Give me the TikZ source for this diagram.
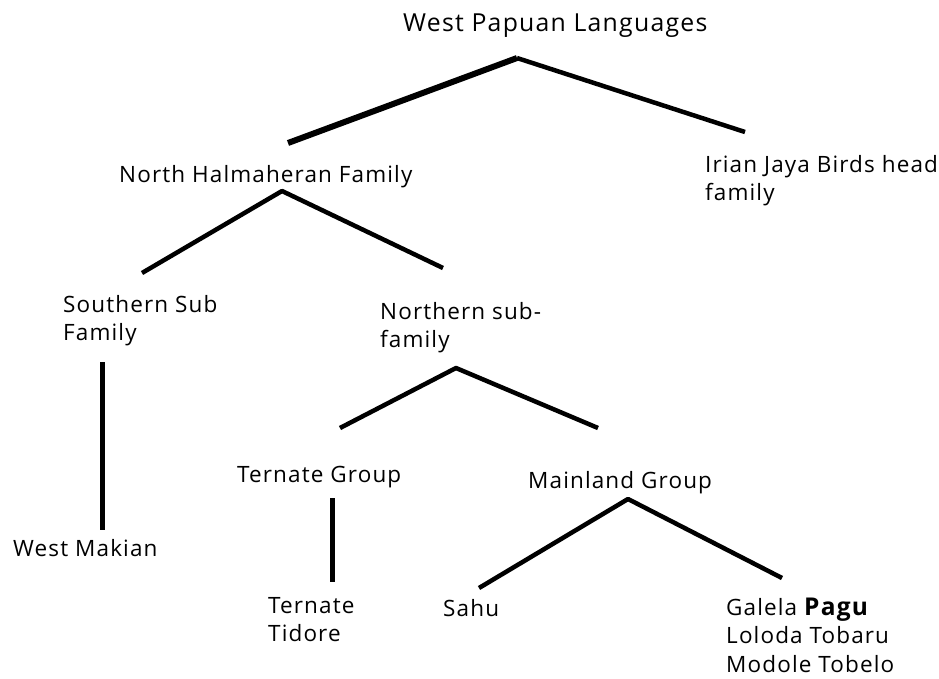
\documentclass[tikz,border=0pt]{standalone}
\usepackage{fontspec}
\setmainfont[LetterSpace=5]{Open Sans}
\usetikzlibrary{positioning}

\begin{document}
\begin{tikzpicture}[
  x=1pt, y=-1pt,
  lang/.style={anchor=base west, inner sep=0pt, align=left, text=black,
    font=\fontsize{22.5}{28.5}\selectfont},
  branch/.style={line width=4.5pt, line join=round}
]
\useasboundingbox (0,0) rectangle (939,678);

% Top level
\node[lang, font=\fontsize{24.8}{30}\selectfont] (wpl) at (403,31) {West Papuan Languages};

% Families (multi-line nodes sit on their last line)
\node[lang] (nhf) at (119,182) {North Halmaheran Family};
\node[lang] (irian) at (705,200.5) {Irian Jaya Birds head\\family};

% Sub families
\node[lang] (southern) at (63,340.5) {Southern Sub\\Family};
\node[lang] (northern) at (380,347.5) {Northern sub-\\family};

% Groups
\node[lang] (ternate-grp) at (237,482) {Ternate Group};
\node[lang] (mainland) at (528,488) {Mainland Group};

% Languages
\node[lang] (westmakian) at (13,556) {West Makian};
\node[lang] (ternate) at (268,641.5) {Ternate\\Tidore};
\node[lang] (sahu) at (443,616) {Sahu};
\node[lang] (galela) at (726,672) {Galela {\fontsize{24.5}{28.5}\selectfont\bfseries Pagu}\\Loloda Tobaru\\Modole Tobelo};

% branch points
\coordinate (wpl-apex) at (517,58);
\coordinate (wpl-l) at (288,143);
\coordinate (wpl-r) at (745,132);
\coordinate (nhf-apex) at (282,191);
\coordinate (nhf-l) at (142,273);
\coordinate (nhf-r) at (443,268);
\coordinate (south-top) at (102,362);
\coordinate (south-bot) at (102,530);
\coordinate (north-apex) at (456,368);
\coordinate (north-l) at (340,428);
\coordinate (north-r) at (598,428);
\coordinate (ternate-top) at (332,498);
\coordinate (ternate-bot) at (332,582);
\coordinate (main-apex) at (628,499);
\coordinate (main-l) at (479,588);
\coordinate (main-r) at (782,578);

% Branches
\draw[branch, line width=6pt] (wpl-l) -- (wpl-apex);
\draw[branch] (wpl-apex) -- (wpl-r);
\draw[branch] (nhf-l) -- (nhf-apex) -- (nhf-r);
\draw[branch, line width=5pt] (south-top) -- (south-bot);
\draw[branch] (north-l) -- (north-apex) -- (north-r);
\draw[branch, line width=5pt] (ternate-top) -- (ternate-bot);
\draw[branch] (main-l) -- (main-apex) -- (main-r);

\end{tikzpicture}
\end{document}
